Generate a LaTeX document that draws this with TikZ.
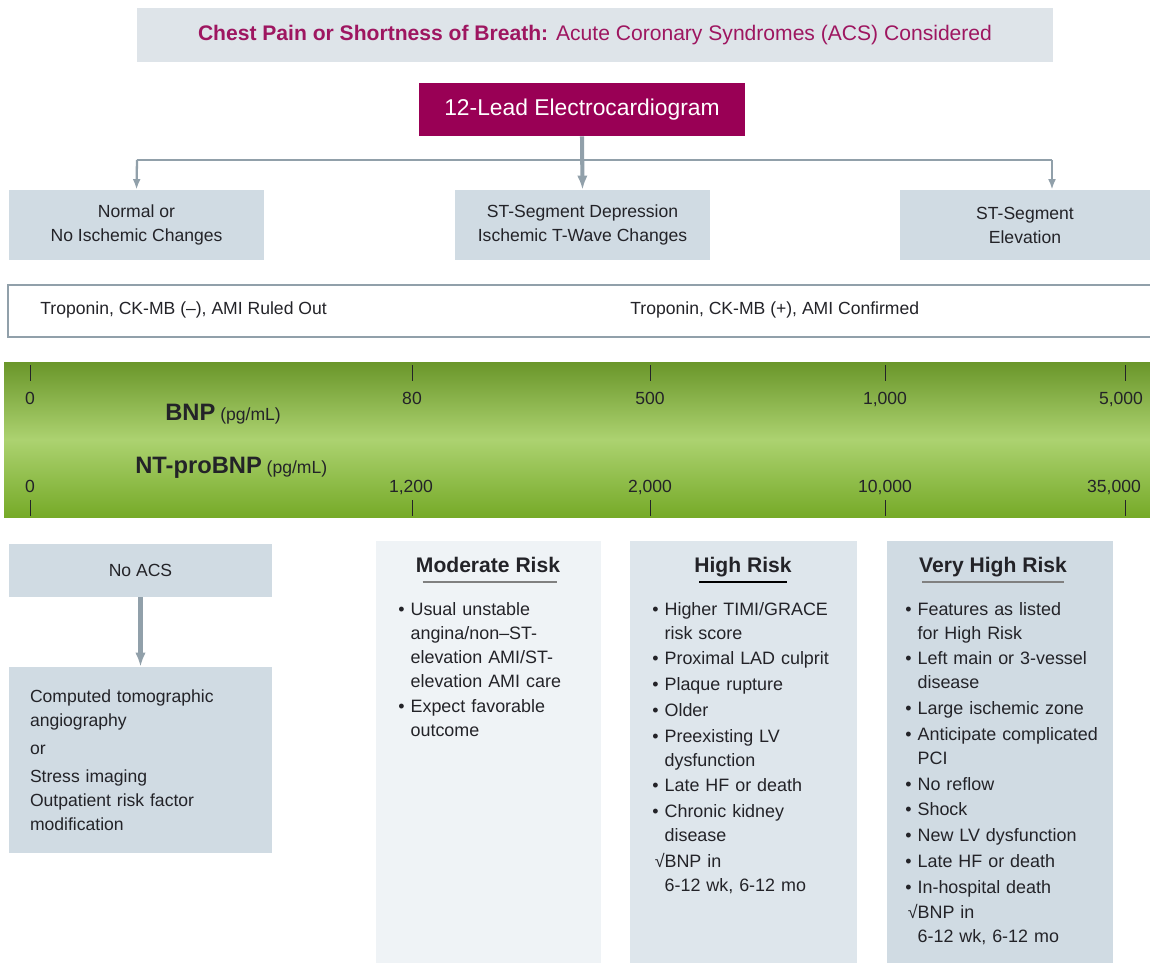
\documentclass[tikz,border=0pt]{standalone}
\usepackage{fontspec}
\setmainfont{Liberation Sans}
\usetikzlibrary{arrows.meta}

\definecolor{ecgmagenta}{RGB}{153,0,85}
\definecolor{headmagenta}{RGB}{158,22,96}
\definecolor{headbox}{RGB}{222,228,233}
\definecolor{findfill}{RGB}{208,219,227}
\definecolor{modrisk}{RGB}{239,243,246}
\definecolor{highrisk}{RGB}{222,230,236}
\definecolor{veryrisk}{RGB}{208,219,227}
\definecolor{linkgray}{RGB}{145,160,170}
\definecolor{inkgray}{RGB}{35,35,40}
\definecolor{bartop}{RGB}{106,150,42}
\definecolor{barmid}{RGB}{172,210,112}
\definecolor{barbottom}{RGB}{118,170,40}

\begin{document}
\begin{tikzpicture}[x=0.02cm,y=-0.02cm,
	every node/.style={inner sep=0pt,text=inkgray,font=\fontsize{10}{13.66}\selectfont},
	findbox/.style={fill=findfill,minimum height=1.4cm,align=center},
	riskbox/.style={anchor=north west,minimum height=8.5cm},
	risktitle/.style={anchor=base,font=\fontsize{12}{14}\selectfont\bfseries},
	risklist/.style={anchor=base west,text width=4.3cm,align=left,font=\fontsize{10.2}{13.66}\selectfont},
	scalelabel/.style={anchor=base},
	flow/.style={linkgray,line width=2.3pt,-{Latex[length=8pt,width=6pt]}},
	branch/.style={linkgray,line width=1.3pt,-{Latex[length=6pt,width=4.5pt]}},
	tick/.style={inkgray,line width=0.5pt}]
	\useasboundingbox (0,0) rectangle (1150,963);

	\node[fill=headbox,minimum width=18.32cm,minimum height=1.08cm,text=headmagenta,
		font=\fontsize{12}{14}\selectfont] (title) at (595,35)
		{\textbf{Chest Pain or Shortness of Breath:} Acute Coronary Syndromes (ACS) Considered};
	\node[fill=ecgmagenta,minimum width=6.52cm,minimum height=1.06cm,text=white,
		font=\fontsize{13}{15}\selectfont] (ecg) at (582,109.5) {12-Lead Electrocardiogram};

	\node[findbox,minimum width=5.1cm] (normal) at (136.5,225) {Normal or\\No Ischemic Changes};
	\node[findbox,minimum width=5.1cm] (depress) at (582.5,225) {ST-Segment Depression\\Ischemic T-Wave Changes};
	\node[findbox,minimum width=5cm] (elev) at (1025,225) {ST-Segment\\Elevation};

	\coordinate (lsplit) at (137,160);
	\coordinate (rsplit) at (1052,160);
	\draw[linkgray,line width=1.6pt] (lsplit) -- (rsplit);
	\draw[branch] (lsplit) -- (normal.north);
	\draw[branch] (rsplit) -- (rsplit |- elev.north);
	\draw[flow] (ecg.south) -- (depress.north);

	\node[draw=linkgray,line width=1.2pt,fill=white,minimum width=22.96cm,minimum height=1.04cm] (troponin) at (582,311) {};
	\node[anchor=west] (ruledout) at (40,310) {Troponin, CK-MB (–), AMI Ruled Out};
	\node[anchor=west] (confirmed) at (630,310) {Troponin, CK-MB (+), AMI Confirmed};

	\shade[top color=bartop,bottom color=barbottom,middle color=barmid] (4,362) rectangle (1154,517);
	\draw[tick] (30,365) -- (30,381);
	\draw[tick] (412,365) -- (412,381);
	\draw[tick] (650,365) -- (650,381);
	\draw[tick] (885,365) -- (885,381);
	\draw[tick] (1125,365) -- (1125,381);
	\draw[tick] (30,500) -- (30,516);
	\draw[tick] (412,500) -- (412,516);
	\draw[tick] (650,500) -- (650,516);
	\draw[tick] (885,500) -- (885,516);
	\draw[tick] (1125,500) -- (1125,516);
	\node[scalelabel] (bnp0) at (30,404) {0};
	\node[scalelabel] (bnp80) at (412,404) {80};
	\node[scalelabel] (bnp500) at (650,404) {500};
	\node[scalelabel] (bnp1k) at (885,404) {1,000};
	\node[scalelabel] (bnp5k) at (1121,404) {5,000};
	\node[scalelabel] (nt0) at (30,492) {0};
	\node[scalelabel] (nt1k) at (411,492) {1,200};
	\node[scalelabel] (nt2k) at (650,492) {2,000};
	\node[scalelabel] (nt10k) at (885,492) {10,000};
	\node[scalelabel] (nt35k) at (1114,492) {35,000};
	\node[anchor=base west] (bnp) at (165,420) {{\fontsize{13.5}{15}\selectfont\bfseries BNP} (pg/mL)};
	\node[anchor=base west] (ntprobnp) at (135,473) {{\fontsize{13.5}{15}\selectfont\bfseries NT-proBNP} (pg/mL)};

	\node[findbox,minimum width=5.26cm,minimum height=1.06cm] (noacs) at (140.5,570.5) {No ACS};
	\node[fill=findfill,minimum width=5.26cm,minimum height=3.72cm,text width=4.42cm,align=left] (imaging) at (140.5,760)
		{Computed tomographic\\angiography\\[2.3pt]or\\[2.3pt]Stress imaging\\Outpatient risk factor\\modification\\[8pt]};
	\draw[flow] (noacs.south) -- (imaging.north);

	\node[riskbox,fill=modrisk,minimum width=4.5cm] (moderate) at (376,541) {};
	\node[riskbox,fill=highrisk,minimum width=4.54cm] (high) at (630,541) {};
	\node[riskbox,fill=veryrisk,minimum width=4.52cm] (veryhigh) at (887,541) {};

	\node[risktitle] (modtitle) at (488,572) {Moderate Risk};
	\node[risktitle] (hightitle) at (743,572) {High Risk};
	\node[risktitle] (verytitle) at (993,572) {Very High Risk};
	\draw[gray,line width=1.2pt,shorten <=4pt,shorten >=2pt] ([yshift=-0.2cm]modtitle.base west) -- ([yshift=-0.2cm]modtitle.base east);
	\draw[black,line width=1.2pt,shorten <=3pt,shorten >=3pt] ([yshift=-0.2cm]hightitle.base west) -- ([yshift=-0.2cm]hightitle.base east);
	\draw[gray,line width=1.2pt,shorten <=2pt,shorten >=2pt] ([yshift=-0.2cm]verytitle.base west) -- ([yshift=-0.2cm]verytitle.base east);

	\node[risklist] (modlist) at (398,615)
		{\textbullet\ Usual unstable\\\hphantom{\textbullet\ }angina/non–ST-\\\hphantom{\textbullet\ }elevation AMI/ST-\\\hphantom{\textbullet\ }elevation AMI care\\[1pt]
		\textbullet\ Expect favorable\\\hphantom{\textbullet\ }outcome};
	\node[risklist] (highlist) at (652,615)
		{\textbullet\ Higher TIMI/GRACE\\\hphantom{\textbullet\ }risk score\\[1pt]
		\textbullet\ Proximal LAD culprit\\[1pt]
		\textbullet\ Plaque rupture\\[1pt]
		\textbullet\ Older\\[1pt]
		\textbullet\ Preexisting LV\\\hphantom{\textbullet\ }dysfunction\\[1pt]
		\textbullet\ Late HF or death\\[1pt]
		\textbullet\ Chronic kidney\\\hphantom{\textbullet\ }disease\\[1pt]
		\hphantom{\textbullet\ }\llap{√}BNP in\\\hphantom{\textbullet\ }6-12 wk, 6-12 mo};
	\node[risklist] (verylist) at (905,615)
		{\textbullet\ Features as listed\\\hphantom{\textbullet\ }for High Risk\\[1pt]
		\textbullet\ Left main or 3-vessel\\\hphantom{\textbullet\ }disease\\[1pt]
		\textbullet\ Large ischemic zone\\[1pt]
		\textbullet\ Anticipate complicated\\\hphantom{\textbullet\ }PCI\\[1pt]
		\textbullet\ No reflow\\[1pt]
		\textbullet\ Shock\\[1pt]
		\textbullet\ New LV dysfunction\\[1pt]
		\textbullet\ Late HF or death\\[1pt]
		\textbullet\ In-hospital death\\[1pt]
		\hphantom{\textbullet\ }\llap{√}BNP in\\\hphantom{\textbullet\ }6-12 wk, 6-12 mo};
\end{tikzpicture}
\end{document}
